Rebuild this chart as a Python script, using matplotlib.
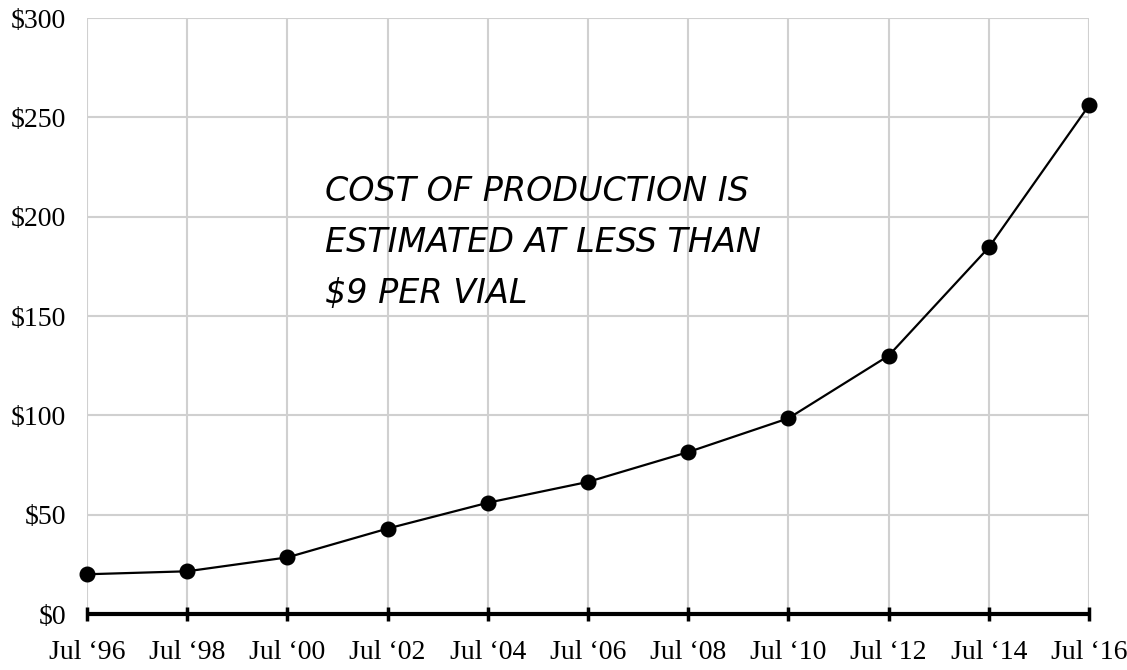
import matplotlib
matplotlib.use("Agg")
import matplotlib.pyplot as plt

# data
labels = ["Jul \u201896", "Jul \u201898", "Jul \u201800", "Jul \u201802", "Jul \u201804", "Jul \u201806",
          "Jul \u201808", "Jul \u201810", "Jul \u201812", "Jul \u201814", "Jul \u201816"]
prices = [20, 21.5, 28.5, 43, 56, 66.5, 81.5, 98.5, 130, 184.5, 256]
yticks = [0, 50, 100, 150, 200, 250, 300]
note = "COST OF PRODUCTION IS\nESTIMATED AT LESS THAN\n\\$9 PER VIAL"

plt.rcParams['font.family'] = ['Liberation Serif', 'DejaVu Serif']

fig = plt.figure(figsize=(11.27, 6.70), dpi=100)
ax = fig.add_axes([87 / 1127, 1 - 614 / 670, 1002 / 1127, 596 / 670])

x = list(range(len(labels)))
ax.plot(x, prices, color="black", lw=1.6, marker="o", ms=10.5, clip_on=False, zorder=3)

ax.set_xlim(0, len(labels) - 1)
ax.set_ylim(0, 300)
ax.set_xticks(x)
ax.set_xticklabels(labels, fontsize=20)
ax.set_yticks(yticks)
ax.set_yticklabels(["\\$%d" % v for v in yticks], fontsize=20)

ax.grid(True, color="#d0d0d0", lw=1.5)
ax.set_axisbelow(True)
for s in ["top", "right", "left"]:
    ax.spines[s].set_visible(False)
ax.spines["bottom"].set_linewidth(3)
ax.spines["bottom"].set_capstyle("butt")
ax.tick_params(axis="x", direction="inout", length=10, width=2.5, pad=14)
ax.tick_params(axis="y", length=0, pad=15)

ax.text(2.38, 221, note, fontsize=24, family=["DejaVu Sans"], style="italic",
        va="top", ha="left", linespacing=1.7)

plt.savefig("out.png", dpi=100)
plt.close()
